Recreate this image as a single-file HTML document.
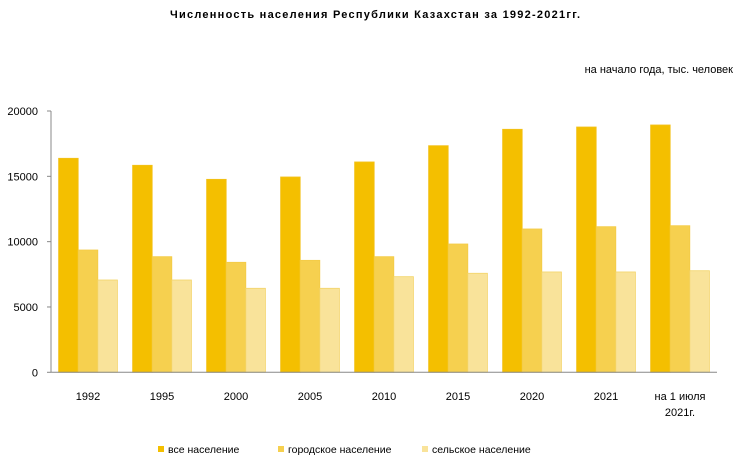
<!DOCTYPE html>
<html><head><meta charset="utf-8"><style>
body{margin:0;background:#fff;}
svg text{font-family:"Liberation Sans","DejaVu Sans",sans-serif;fill:#000;}
</style></head><body>
<svg id="chart" width="740" height="467">
<text x="375" y="18" text-anchor="middle" font-size="11" font-weight="bold" textLength="410" lengthAdjust="spacing">Численность  населения  Республики  Казахстан  за 1992-2021гг.</text>
<text x="733" y="73" text-anchor="end" font-size="11">на начало года, тыс. человек</text>
<g id="yaxis"></g><g id="bars"></g><g id="xaxis"></g><g id="legend"></g>
</svg>
<script>
const categories=["1992","1995","2000","2005","2010","2015","2020","2021","на 1 июля|2021г."];
const totalPop=[16380,15845,14770,14950,16100,17345,18600,18775,18930];
const urbanPop=[9360,8850,8420,8570,8850,9820,10970,11145,11220];
const ruralPop=[7065,7065,6430,6430,7320,7580,7680,7680,7775];
const yTicks=[0,5000,10000,15000,20000];
const seriesNames=["все население","городское население","сельское население"];
const NS="http://www.w3.org/2000/svg";
const X0=51,X1=717,Y0=372.3,Y1=111,YMAX=20000;
const fills=["#F4BF00","#F6D04F","#F9E39A"],strokes=["#F2C11A","#F4CB45","#F3D468"];
const y=v=>Y0-(v/YMAX)*(Y0-Y1);
const gw=(X1-X0)/categories.length,bw=19.6,pad=(gw-3*bw)/2;
const gx=i=>X0+i*gw;
function mk(tag,attrs,parent){const e=document.createElementNS(NS,tag);for(const k in attrs)e.setAttribute(k,attrs[k]);document.getElementById(parent).appendChild(e);return e;}
let e=mk("line",{x1:X0,y1:Y1,x2:X0,y2:Y0,stroke:"#888"},"yaxis");


yTicks.forEach(t=>{
 let l=mk("line",{x1:X0-4,x2:X0,y1:y(t),y2:y(t),stroke:"#888"},"yaxis");
 
 
 let tx=mk("text",{x:X0-13,y:y(t)+4,"text-anchor":"end","font-size":"11"},"yaxis");
 tx.textContent=t;
 
 
});
[totalPop,urbanPop,ruralPop].forEach((s,si)=>{
 s.forEach((v,i)=>{
  let r=mk("rect",{x:gx(i)+pad+si*bw,y:y(v),width:bw,height:Y0-y(v),fill:fills[si],stroke:strokes[si],"stroke-width":"0.8"},"bars");
  
  
 });
});
e=mk("line",{x1:X0,y1:Y0,x2:X1,y2:Y0,stroke:"#888"},"xaxis");


categories.forEach((c,i)=>{
 c.split("|").forEach((ln,j)=>{
  let tx=mk("text",{x:gx(i)+gw/2,y:400+j*16,"text-anchor":"middle","font-size":"11"},"xaxis");
  tx.textContent=ln;
  
  
 });
});
const lx=[158,278,422];
seriesNames.forEach((n,i)=>{
 let r=mk("rect",{x:lx[i],y:446,width:6,height:6,fill:fills[i]},"legend");
 
 
 let tx=mk("text",{x:lx[i]+10,y:453,"font-size":"10.5"},"legend");
 tx.textContent=n;
 
 
});
</script>
</body></html>
